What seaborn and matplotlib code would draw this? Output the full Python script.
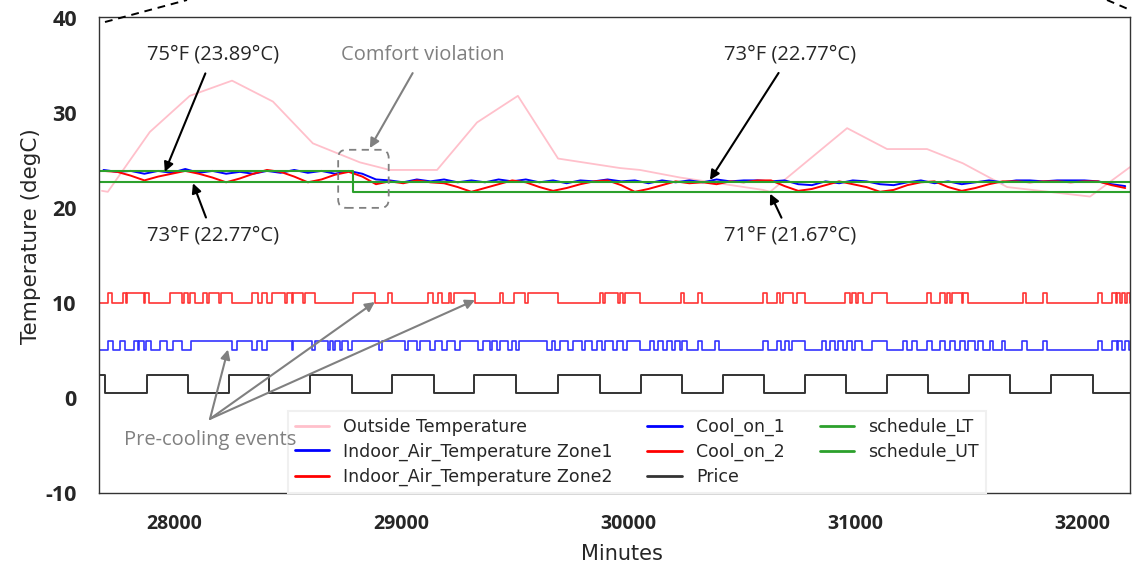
import numpy as np
import pandas as pd
import matplotlib.pyplot as plt
import seaborn as sns
from matplotlib.lines import Line2D
from matplotlib.patches import FancyBboxPatch

# ---- data (minutes / degC) ----
outside_min = [27683, 27709, 27894, 28070, 28256, 28436, 28612, 28819, 28951, 29159,
               29335, 29515, 29692, 29965, 30053, 30230, 30595, 30626, 30965, 31141,
               31317, 31475, 31670, 32035, 32211]
outside_temp = [21.8, 21.7, 28.0, 31.8, 33.4, 31.2, 26.8, 24.8, 24.0, 24.0,
                29.0, 31.8, 25.2, 24.2, 24.0, 23.2, 21.9, 21.7, 28.4, 26.2,
                26.2, 24.7, 22.2, 21.2, 24.3]

zone_min = [27690, 27750, 27810, 27870, 27930, 27990, 28050, 28110, 28170, 28230,
            28290, 28350, 28410, 28470, 28530, 28590, 28650, 28710, 28770, 28830,
            28890, 28950, 29010, 29070, 29130, 29190, 29250, 29310, 29370, 29430,
            29490, 29550, 29610, 29670, 29730, 29790, 29850, 29910, 29970, 30030,
            30090, 30150, 30210, 30270, 30330, 30390, 30450, 30510, 30570, 30630,
            30690, 30750, 30810, 30870, 30930, 30990, 31050, 31110, 31170, 31230,
            31290, 31350, 31410, 31470, 31530, 31590, 31650, 31710, 31770, 31830,
            31890, 31950, 32010, 32070, 32130, 32190]
zone1_temp = [24.0, 23.8, 23.9, 23.6, 23.9, 23.7, 24.1, 23.7, 23.9, 23.6,
              23.8, 23.6, 23.9, 23.7, 24.0, 23.7, 23.9, 23.6, 23.9, 23.6,
              23.0, 22.9, 22.7, 23.0, 22.8, 23.0, 22.7, 22.9, 22.7, 23.0,
              22.8, 23.0, 22.7, 22.9, 22.6, 22.9, 22.8, 23.0, 22.8, 22.9,
              22.6, 22.9, 22.7, 22.9, 22.7, 23.0, 22.8, 22.9, 22.9, 22.8,
              22.9, 22.5, 22.4, 22.8, 22.6, 22.9, 22.8, 22.5, 22.4, 22.7,
              22.9, 22.6, 22.8, 22.5, 22.7, 22.9, 22.7, 22.9, 22.9, 22.8,
              22.9, 22.9, 22.9, 22.8, 22.5, 22.3]
zone2_temp = [23.9, 23.8, 23.4, 22.9, 23.3, 23.6, 23.9, 23.6, 23.2, 22.7,
              23.1, 23.6, 24.0, 23.8, 23.3, 22.7, 23.0, 23.5, 23.8, 23.3,
              22.5, 22.8, 22.6, 22.9, 22.7, 22.6, 22.2, 21.7, 22.1, 22.5,
              22.9, 22.7, 22.2, 21.8, 22.1, 22.5, 22.8, 22.9, 22.4, 21.7,
              22.0, 22.4, 22.8, 22.6, 22.7, 22.5, 22.8, 22.7, 22.9, 22.9,
              22.3, 21.8, 22.0, 22.4, 22.8, 22.5, 22.2, 21.7, 21.9, 22.4,
              22.7, 22.8, 22.2, 21.8, 22.1, 22.5, 22.8, 22.8, 22.7, 22.8,
              22.8, 22.7, 22.8, 22.8, 22.4, 22.1]

schedule_min = [27670, 28790, 32211]
schedule_lt = [22.77, 21.67, 21.67]
schedule_ut = [23.89, 22.77, 22.77]

# cooling on periods (start, end) in minutes
cool1_on = [(27709, 27731), (27762, 27784), (27824, 27841), (27846, 27868), (27877, 27899),
            (27938, 27969), (27996, 28035), (28075, 28255), (28278, 28344), (28366, 28388),
            (28410, 28520), (28524, 28608), (28621, 28678), (28687, 28700), (28709, 28731),
            (28740, 28766), (28784, 28903), (28916, 29018), (29031, 29070), (29084, 29128),
            (29150, 29181), (29203, 29238), (29260, 29339), (29361, 29392), (29401, 29423),
            (29436, 29471), (29489, 29507), (29520, 29643), (29665, 29678), (29700, 29736),
            (29758, 29797), (29810, 29841), (29863, 29885), (29899, 29934), (29951, 29978),
            (29996, 30053), (30097, 30114), (30132, 30154), (30172, 30194), (30207, 30229),
            (30238, 30260), (30308, 30326), (30383, 30401), (30595, 30617), (30656, 30674),
            (30691, 30709), (30722, 30780), (30854, 30872), (30890, 30912), (30925, 30947),
            (30965, 30987), (31000, 31031), (31075, 31141), (31211, 31229), (31251, 31273),
            (31317, 31339), (31374, 31396), (31418, 31440), (31462, 31484), (31498, 31528),
            (31542, 31564), (31594, 31608), (31647, 31661), (31735, 31757), (31828, 31846),
            (32070, 32088), (32132, 32154), (32159, 32176), (32189, 32205)]
cool2_on = [(27709, 27727), (27775, 27789), (27793, 27868), (27872, 27890), (27982, 28035),
            (28044, 28062), (28070, 28093), (28128, 28145), (28155, 28198), (28207, 28255),
            (28344, 28370), (28388, 28410), (28432, 28489), (28498, 28520), (28524, 28568),
            (28577, 28621), (28789, 28885), (28943, 28960), (29119, 29141), (29163, 29181),
            (29212, 29222), (29232, 29326), (29436, 29449), (29498, 29546), (29559, 29692),
            (29877, 29890), (29899, 29956), (29965, 29978), (29987, 30053), (30233, 30247),
            (30308, 30326), (30595, 30612), (30656, 30669), (30683, 30727), (30744, 30780),
            (30956, 30978), (30987, 31004), (31013, 31035), (31075, 31141), (31317, 31335),
            (31374, 31396), (31405, 31418), (31427, 31471), (31476, 31498), (31740, 31753),
            (31828, 31846), (32070, 32088), (32132, 32150), (32154, 32167), (32176, 32189),
            (32198, 32209)]
# high price periods
price_high = [(27670, 27698), (27881, 28064), (28241, 28421), (28600, 28784), (28960, 29144),
              (29320, 29508), (29692, 29877), (30057, 30240), (30419, 30599), (30780, 30960),
              (31141, 31322), (31502, 31683), (31863, 32046)]
price_levels = (0.5, 2.4)
cool1_levels = (5, 6)
cool2_levels = (10, 11)
x_start, x_end = 27670, 32211


def step_table(periods, low, high):
    t = []
    v = []
    if periods[0][0] > x_start:
        t.append(x_start)
        v.append(low)
    for a, b in periods:
        t += [a, b]
        v += [high, low]
    t.append(x_end)
    v.append(low)
    return pd.DataFrame({'Minutes': t, 'value': v})


sns.set_style('white')
plt.rcParams['font.family'] = ['DejaVu Sans']
plt.rcParams['axes.unicode_minus'] = False

fig = plt.figure(figsize=(11.39, 5.70), dpi=100)
ax = fig.add_axes([0.0869, 0.1351, 0.9052, 0.8351])

pink = '#ffc0cb'
green = '#2ca02c'
dark = '#333333'

sns.lineplot(x=outside_min, y=outside_temp, color=pink, lw=1.3, ax=ax, estimator=None, sort=False)
sns.lineplot(x=zone_min, y=zone1_temp, color='blue', lw=1.4, ax=ax, estimator=None, sort=False)
sns.lineplot(x=zone_min, y=zone2_temp, color='red', lw=1.4, ax=ax, estimator=None, sort=False)
sns.lineplot(x=schedule_min, y=schedule_lt, color=green, lw=1.5, ax=ax,
             drawstyle='steps-post', estimator=None, sort=False)
sns.lineplot(x=schedule_min, y=schedule_ut, color=green, lw=1.5, ax=ax,
             drawstyle='steps-post', estimator=None, sort=False)

c1 = step_table(cool1_on, *cool1_levels)
c2 = step_table(cool2_on, *cool2_levels)
pr = step_table(price_high, *price_levels)
sns.lineplot(data=c1, x='Minutes', y='value', color='blue', lw=1.2, alpha=0.8, ax=ax,
             drawstyle='steps-post', estimator=None, sort=False)
sns.lineplot(data=c2, x='Minutes', y='value', color='red', lw=1.2, alpha=0.8, ax=ax,
             drawstyle='steps-post', estimator=None, sort=False)
sns.lineplot(data=pr, x='Minutes', y='value', color=dark, lw=1.4, ax=ax,
             drawstyle='steps-post', estimator=None, sort=False)

ax.set_xlim(x_start, x_end)
ax.set_ylim(-10, 40.1)
ax.set_xticks([28000, 29000, 30000, 31000, 32000])
ax.set_yticks([-10, 0, 10, 20, 30, 40])
ax.tick_params(axis='both', direction='out', length=4, color=dark, width=1)
ax.tick_params(axis='x', pad=11)
ax.tick_params(axis='y', pad=12)
for lab in ax.get_xticklabels():
    lab.set_fontfamily('Open Sans')
    lab.set_fontweight('bold')
    lab.set_fontsize(14)
for lab in ax.get_yticklabels():
    lab.set_fontfamily('Open Sans')
    lab.set_fontweight('bold')
    lab.set_fontsize(15.5)
for s in ax.spines.values():
    s.set_color(dark)
    s.set_linewidth(1)
    s.set_visible(True)

ax.set_xlabel('Minutes', fontsize=15)
ax.set_ylabel('Temperature (degC)', fontsize=15.5)
ax.xaxis.set_label_coords(0.507, -0.108)
ax.yaxis.set_label_coords(-0.056, 0.54)

# annotations
ann_font = dict(fontfamily='Open Sans', fontsize=14.5, ha='center', va='center')
black_arrow = dict(arrowstyle='-|>', color='black', lw=1.5, mutation_scale=14, shrinkA=4, shrinkB=0)
gray_arrow = dict(arrowstyle='-|>', color='#808080', lw=1.5, mutation_scale=14, shrinkA=4, shrinkB=0)

ax.annotate('75°F (23.89°C)', xy=(27960, 23.8), xytext=(28172, 36.1), arrowprops=black_arrow, **ann_font)
ax.annotate('73°F (22.77°C)', xy=(28084, 22.6), xytext=(28172, 17.05), arrowprops=black_arrow, **ann_font)
ax.annotate('73°F (22.77°C)', xy=(30361, 22.95), xytext=(30714, 36.1), arrowprops=black_arrow, **ann_font)
ax.annotate('71°F (21.67°C)', xy=(30626, 21.5), xytext=(30714, 17.05), arrowprops=black_arrow, **ann_font)
ax.annotate('Comfort violation', xy=(28863, 26.3), xytext=(29097, 36.1), color='#808080',
            arrowprops=gray_arrow, **ann_font)

ax.text(28159, -4.4, 'Pre-cooling events', color='#808080', zorder=8, **ann_font)
for tip in [(28238, 5.1), (28885, 10.1), (29326, 10.3)]:
    ax.annotate('', xy=tip, xytext=(28159, -2.2),
                arrowprops=dict(arrowstyle='-|>', color='#808080', lw=1.5, mutation_scale=14,
                                shrinkA=0, shrinkB=0))

box = FancyBboxPatch((0.232, 0.599), 0.049, 0.122, transform=ax.transAxes,
                     boxstyle='round,pad=0,rounding_size=0.008', mutation_aspect=1031 / 476,
                     fill=False, edgecolor='#808080', lw=1.3, linestyle=(0, (4, 3)), zorder=5)
ax.add_patch(box)

# legend
handles = [Line2D([], [], color=pink, lw=2), Line2D([], [], color='blue', lw=2),
           Line2D([], [], color='red', lw=2), Line2D([], [], color='blue', lw=2),
           Line2D([], [], color='red', lw=2), Line2D([], [], color=dark, lw=2),
           Line2D([], [], color=green, lw=2), Line2D([], [], color=green, lw=2)]
labels = ['Outside Temperature', 'Indoor_Air_Temperature Zone1', 'Indoor_Air_Temperature Zone2',
          'Cool_on_1', 'Cool_on_2', 'Price', 'schedule_LT', 'schedule_UT']
leg = ax.legend(handles, labels, ncol=3, loc='lower left', bbox_to_anchor=(0.183, 0.0),
                borderaxespad=0, fontsize=12.5, labelspacing=0.4, frameon=True, fancybox=False,
                edgecolor='#f0f0f0', framealpha=1)
leg.get_frame().set_linewidth(1.5)
leg.set_zorder(6)

# dashed zoom-guide lines at the top
fig.add_artist(Line2D([105 / 1139, 187 / 1139], [1 - 22 / 570, 1.0], color='black',
                      lw=1.4, linestyle=(0, (4, 3))))
fig.add_artist(Line2D([1107 / 1139, 1128 / 1139], [1.0, 1 - 9 / 570], color='black',
                      lw=1.4, linestyle=(0, (4, 3))))

fig.savefig('out.png', dpi=100)
